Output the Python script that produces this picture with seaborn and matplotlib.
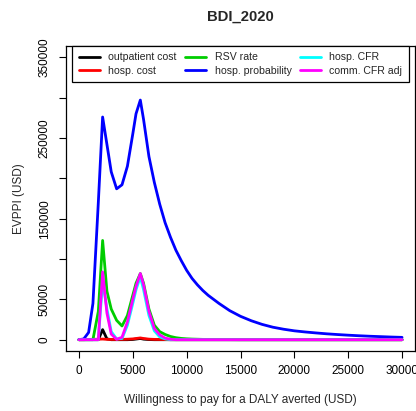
import matplotlib
matplotlib.use("Agg")
import matplotlib.pyplot as plt
import seaborn as sns
import pandas as pd

# Willingness-to-pay grid (USD per DALY averted)
wtp = [0, 450, 900, 1300, 1800, 2200, 2600, 3000, 3500, 4000, 4500, 5000, 5300, 5700,
       6000, 6500, 7000, 7500, 8000, 8500, 9000, 9500, 10000, 10500, 11000, 11500, 12000,
       13000, 14000, 15000, 16000, 17000, 18000, 19000, 20000, 21000, 22000, 23000,
       24000, 25000, 26000, 27000, 28000, 29000, 30000]

# EVPPI (USD) per parameter group
outpatient_cost = [0, 0, 0, 0, 0, 12500, 1000, 0, 0, 0, 0, 300, 800, 1500,
                   700, 200, 0, 0, 0, 0, 0, 0, 0, 0, 0, 0, 0,
                   0, 0, 0, 0, 0, 0, 0, 0, 0, 0, 0,
                   0, 0, 0, 0, 0, 0, 0]
hosp_cost = [0, 0, 300, 500, 600, 800, 400, 300, 300, 400, 600, 1000, 1500, 2200,
             1500, 700, 400, 300, 200, 0, 0, 0, 0, 0, 0, 0, 0,
             0, 0, 0, 0, 0, 0, 0, 0, 0, 0, 0,
             0, 0, 0, 0, 0, 0, 0]
rsv_rate = [0, 0, 0, 0, 35000, 123000, 60000, 38000, 24000, 17000, 30000, 55000, 70000, 82000,
            70000, 38000, 18000, 10000, 6500, 4000, 2500, 1600, 1100, 800, 600, 400, 300,
            150, 100, 0, 0, 0, 0, 0, 0, 0, 0, 0,
            0, 0, 0, 0, 0, 0, 0]
hosp_probability = [0, 1000, 9000, 45000, 170000, 276000, 242000, 208000, 187000, 192000,
                    215000, 255000, 280000, 297000,
                    273000, 227000, 195000, 168000, 145000, 127000, 111000, 98000, 86000,
                    76000, 68000, 61000, 55000,
                    45000, 36000, 29000, 23500, 19000, 15500, 13000, 11000, 9600, 8400, 7300,
                    6400, 5600, 4900, 4300, 3800, 3300, 2900]
hosp_cfr = [0, 0, 0, 0, 0, 72000, 38000, 10000, 1000, 1500, 18000, 45000, 62000, 78000,
            62000, 30000, 11000, 3500, 1000, 0, 0, 0, 0, 0, 0, 0, 0,
            0, 0, 0, 0, 0, 0, 0, 0, 0, 0, 0,
            0, 0, 0, 0, 0, 0, 0]
comm_cfr_adj = [0, 0, 0, 0, 0, 84000, 33000, 7000, 500, 3000, 22000, 50000, 66000, 82000,
                68000, 35000, 14000, 6000, 2000, 500, 0, 0, 0, 0, 0, 0, 0,
                0, 0, 0, 0, 0, 0, 0, 0, 0, 0, 0,
                0, 0, 0, 0, 0, 0, 0]

labels = ["outpatient cost", "hosp. cost", "RSV rate",
          "hosp. probability", "hosp. CFR", "comm. CFR adj"]
colors = ["#000000", "#FF0000", "#00CD00", "#0000FF", "#00FFFF", "#FF00FF"]
series = [outpatient_cost, hosp_cost, rsv_rate, hosp_probability, hosp_cfr, comm_cfr_adj]

frames = [pd.DataFrame({"wtp": wtp, "evppi": s, "param": lab})
          for s, lab in zip(series, labels)]
df = pd.concat(frames, ignore_index=True)

sns.set_theme(style="ticks")
plt.rcParams["font.family"] = ["Liberation Sans", "DejaVu Sans"]

fig = plt.figure(figsize=(4.16, 4.11), dpi=100)
ax = fig.add_axes([66 / 416, 1 - 351 / 411, (415 - 66) / 416, (351 - 46) / 411])

sns.lineplot(data=df, x="wtp", y="evppi", hue="param", hue_order=labels,
             palette=dict(zip(labels, colors)), estimator=None, sort=False,
             linewidth=2.0, ax=ax)

ax.set_xlim(-1200, 31200)
ax.set_ylim(-14000, 364000)

xt = [0, 5000, 10000, 15000, 20000, 25000, 30000]
ax.set_xticks(xt)
ax.set_xticklabels([str(v) for v in xt])
yt = list(range(0, 350001, 50000))
ax.set_yticks(yt)
ax.set_yticklabels([str(v) if v in (0, 50000, 150000, 250000, 350000) else "" for v in yt],
                   rotation=90, va="center")

ax.tick_params(axis="both", direction="out", length=5, width=0.8, color="black",
               labelsize=8.5, labelcolor="black")
ax.tick_params(axis="x", pad=5)
ax.tick_params(axis="y", pad=6)
for sp in ax.spines.values():
    sp.set_visible(True)
    sp.set_color("black")
    sp.set_linewidth(0.9)

ax.set_xlabel("Willingness to pay for a DALY averted (USD)", fontsize=8.5, labelpad=12)
ax.set_ylabel("EVPPI (USD)", fontsize=8.5, labelpad=10)
fig.text(240 / 416, 1 - 17 / 411, "BDI_2020", ha="center", va="center",
         fontsize=10.7, fontweight="bold")

handles, labs = ax.get_legend_handles_labels()
leg = ax.legend(handles, labs, loc="upper center", bbox_to_anchor=(0.5, 1.0), ncol=3,
                fontsize=7.6, frameon=True, fancybox=False, edgecolor="black",
                framealpha=1, borderaxespad=0, handlelength=2.0, handletextpad=0.8,
                columnspacing=0.8, borderpad=0.6, labelspacing=0.3)
leg.get_frame().set_linewidth(0.9)

fig.savefig("out.png", dpi=100)
